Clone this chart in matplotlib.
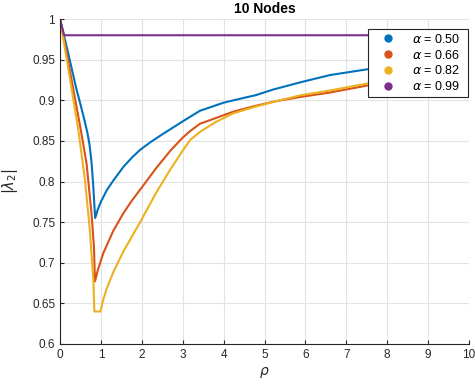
import matplotlib
matplotlib.use("Agg")
import matplotlib.pyplot as plt
from matplotlib.lines import Line2D

plt.rcParams['font.family'] = ['Liberation Sans', 'DejaVu Sans']
plt.rcParams['mathtext.fontset'] = 'dejavusans'

# second largest eigenvalue magnitude vs rho, one curve per alpha
alphas = [0.50, 0.66, 0.82, 0.99]
colors = ['#0072BD', '#D95319', '#EDB120', '#7E2F8E']

rho_a50 = [0, 0.2, 0.4, 0.5, 0.6, 0.67, 0.72, 0.77, 0.81, 0.84, 0.86, 0.92, 1.0, 1.14, 1.3,
           1.55, 1.75, 1.96, 2.2, 2.5, 3.0, 3.42, 4.0, 4.5, 4.77, 5.2, 5.87, 6.6, 7.5, 8.5,
           9.3, 10]
lam_a50 = [1.0, 0.958, 0.914, 0.895, 0.875, 0.860, 0.846, 0.824, 0.797, 0.771, 0.755, 0.765,
           0.775, 0.789, 0.801, 0.818, 0.829, 0.839, 0.848, 0.858, 0.874, 0.887, 0.897, 0.903,
           0.906, 0.913, 0.922, 0.931, 0.938, 0.945, 0.950, 0.953]

rho_a66 = [0, 0.2, 0.4, 0.5, 0.65, 0.77, 0.83, 0.855, 0.92, 1.06, 1.3, 1.55, 1.75, 1.96,
           2.36, 2.7, 3.0, 3.18, 3.42, 4.24, 4.77, 5.3, 5.87, 6.6, 7.5, 8.5, 9.3, 10]
lam_a66 = [1.0, 0.948, 0.893, 0.866, 0.822, 0.761, 0.720, 0.677, 0.690, 0.712, 0.739, 0.761,
           0.776, 0.790, 0.817, 0.838, 0.854, 0.862, 0.871, 0.886, 0.893, 0.899, 0.904,
           0.9095, 0.918, 0.926, 0.932, 0.936]

rho_a82 = [0, 0.2, 0.45, 0.61, 0.73, 0.815, 0.84, 0.99, 1.06, 1.14, 1.3, 1.55, 1.96, 2.36,
           2.7, 3.0, 3.18, 3.42, 3.8, 4.24, 4.77, 5.3, 5.87, 6.6, 7.5, 8.5, 9.3, 10]
lam_a82 = [1.0, 0.940, 0.863, 0.802, 0.740, 0.679, 0.640, 0.640, 0.655, 0.668, 0.688, 0.714,
           0.750, 0.787, 0.815, 0.838, 0.851, 0.861, 0.873, 0.884, 0.892, 0.899, 0.906,
           0.912, 0.9205, 0.927, 0.930, 0.933]

rho_a99 = [0, 0.1, 10]
lam_a99 = [1.0, 0.980, 0.980]

series = [(rho_a50, lam_a50), (rho_a66, lam_a66), (rho_a82, lam_a82), (rho_a99, lam_a99)]

fig = plt.figure(figsize=(4.75, 3.87), dpi=100)
ax = fig.add_axes([60 / 475, 1 - 344 / 387, 409 / 475, 325 / 387])

for (r, lam), c in zip(series, colors):
    ax.plot(r, lam, color=c, linewidth=1.5)

ax.set_xlim(0, 10)
ax.set_ylim(0.6, 1)
ax.set_xticks(range(0, 11))
ax.set_yticks([0.6, 0.65, 0.7, 0.75, 0.8, 0.85, 0.9, 0.95, 1.0])
ax.set_yticklabels(['0.6', '0.65', '0.7', '0.75', '0.8', '0.85', '0.9', '0.95', '1'])

ax.grid(True, color='#e3e3e3', linewidth=0.8)
ax.set_axisbelow(True)
for side in ['top', 'right']:
    ax.spines[side].set_visible(False)
for side in ['left', 'bottom']:
    ax.spines[side].set_color('#262626')
    ax.spines[side].set_linewidth(0.8)
ax.tick_params(direction='in', length=3, width=0.8, color='#262626',
               labelcolor='#262626', labelsize=8.5)

ax.set_title('10 Nodes', fontsize=10, fontweight='bold', pad=4)
ax.set_xlabel(r'$\rho$', fontsize=10, color='#262626', labelpad=3)
ax.set_ylabel(r'$|\lambda_2|$', fontsize=10.5, color='#262626', labelpad=9)

# legend shows coloured dots only, stretched to a fixed box
handles = [Line2D([], [], linestyle='none', marker='o', markersize=5,
                  markerfacecolor=c, markeredgecolor=c) for c in colors]
labels = [r'$\alpha$ = %.2f' % a for a in alphas]
leg = ax.legend(handles, labels, loc='upper left',
                bbox_to_anchor=(0.753, 0.772, 0.245, 0.197), mode='expand',
                borderaxespad=0, fontsize=9, frameon=True, fancybox=False,
                framealpha=1, edgecolor='#262626', handlelength=2.6,
                handletextpad=0.62, labelspacing=0.22, borderpad=0.3)
leg.get_frame().set_linewidth(0.8)

fig.savefig('out.png', dpi=100, facecolor='white')
